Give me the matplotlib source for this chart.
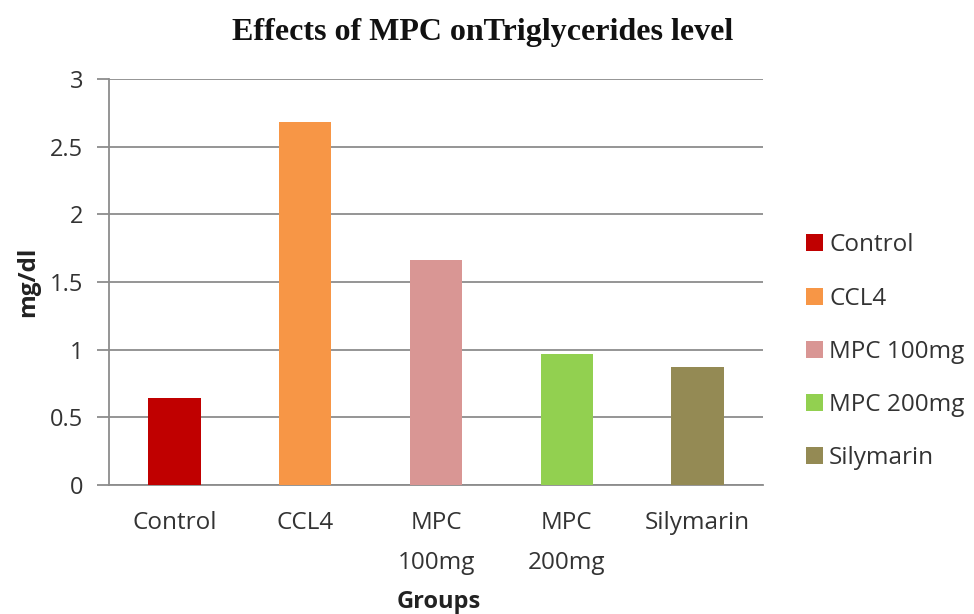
import matplotlib
matplotlib.use("Agg")
import matplotlib.pyplot as plt
from matplotlib.patches import Patch

groups = ["Control", "CCL4", "MPC 100mg", "MPC 200mg", "Silymarin"]
tick_labels = ["Control", "CCL4", "MPC\n100mg", "MPC\n200mg", "Silymarin"]
values = [0.64, 2.68, 1.66, 0.97, 0.87]
colors = ["#C00000", "#F79646", "#D99694", "#92D050", "#948A54"]
yticks = [0, 0.5, 1, 1.5, 2, 2.5, 3]
ytick_labels = ["0", "0.5", "1", "1.5", "2", "2.5", "3"]

fig = plt.figure(figsize=(9.74, 6.14), dpi=100)
fig.patch.set_facecolor("white")
ax = fig.add_axes([0.1119, 0.2101, 0.6715, 0.6612])

x = list(range(len(groups)))
ax.bar(x, values, width=0.4, color=colors, zorder=3)

ax.set_xlim(-0.5, len(groups) - 0.5)
ax.set_ylim(0, 3)
ax.set_yticks(yticks)
ax.set_yticklabels(ytick_labels)
ax.set_xticks(x)
ax.set_xticklabels(tick_labels, linespacing=1.85)

grid_color = "#8C8C8C"
ax.yaxis.grid(True, color=grid_color, linewidth=1.3, zorder=0)
ax.set_axisbelow(True)
for side in ["top", "right"]:
    ax.spines[side].set_visible(False)
for side in ["left", "bottom"]:
    ax.spines[side].set_color(grid_color)
    ax.spines[side].set_linewidth(1.3)

font = "Open Sans"
text_color = "#333333"
ax.tick_params(axis="y", length=8.6, width=1.3, color=grid_color, pad=10,
               labelsize=17, labelcolor=text_color)
ax.tick_params(axis="x", length=0, pad=19, labelsize=17.5, labelcolor=text_color)
for lbl in ax.get_xticklabels() + ax.get_yticklabels():
    lbl.set_fontfamily(font)

fig.text(0.029, 0.541, "mg/dl", rotation=90, fontfamily=font,
         fontweight="bold", fontsize=17.5, ha="center", va="center",
         color="#222222")
fig.text(0.450, 0.019, "Groups", fontfamily=font, fontweight="bold",
         fontsize=17, ha="center", va="center", color="#222222")

fig.text(0.496, 0.947, "Effects of MPC onTriglycerides level",
         fontfamily="Liberation Serif", fontweight="bold", fontsize=23,
         ha="center", va="center", color="#111111")

handles = [Patch(facecolor=c, edgecolor="none") for c in colors]
leg = fig.legend(handles, groups, loc="center left",
                 bbox_to_anchor=(0.8275, 0.427), frameon=False,
                 prop={"family": font, "size": 17.5},
                 handlelength=0.7, handleheight=0.7, handletextpad=0.25,
                 labelspacing=1.2, borderaxespad=0, borderpad=0)
for t in leg.get_texts():
    t.set_color(text_color)

fig.savefig("out.png", dpi=100, facecolor="white")
